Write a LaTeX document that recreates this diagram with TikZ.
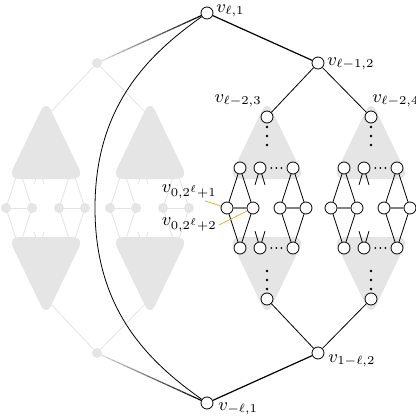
\documentclass[tikz,border=0pt]{standalone}
\usepackage{amsmath,amssymb}
\usepackage{xcolor}
\usetikzlibrary{calc,positioning}
\definecolor{ghost}{gray}{0.9}
\definecolor{ghostline}{gray}{0.89}
\definecolor{pointer}{RGB}{226,178,40}

\begin{document}
\begin{tikzpicture}[x=0.5pt,y=0.5pt,
    vert/.style={circle,draw,fill=white,thin,minimum size=6pt,inner sep=0pt},
    ghostvert/.style={circle,fill=ghost,minimum size=5pt,inner sep=0pt},
    lab/.style={inner sep=1pt,font=\fontsize{8.6}{10}\selectfont},
    rung/.style={gray,line width=0.9pt},
    cone/.style={ghost,rounded corners=5.5pt}]
    \useasboundingbox (0,0) rectangle (416,420);

    % LEFT: faded copy of the right half
    \begin{scope}[shift={(-221,0)}]
        \node[ghostvert] (gup) at (318,357) {};
        \node[ghostvert] (gdn) at (318,67) {};
        \foreach \c in {267,371} {
            \draw[ghostline] (gup) -- (\c,303);
            \draw[ghostline] (gdn) -- (\c,121);
            \foreach \t/\m in {-27/-40,-27/-14,26/13,26/39}
                \draw[ghostline] (\c+\t,252) -- (\c+\m,212) -- (\c+\t,172);
            \draw[ghostline] (\c-12,236) -- (\c-7,252) -- (\c-2,236);
            \draw[ghostline] (\c-12,188) -- (\c-7,172) -- (\c-2,188);
            \draw[ghostline] (\c-40,212) -- (\c-14,212);
            \draw[ghostline] (\c+13,212) -- (\c+39,212);
            \fill[cone] (\c,320) -- (\c-38,241) -- (\c+38,241) -- cycle;
            \fill[cone] (\c,104) -- (\c-38,183) -- (\c+38,183) -- cycle;
            \foreach \m [count=\k] in {-40,-14,13,39}
                \node[ghostvert] (g\c-\k) at (\c+\m,212) {};
        }
    \end{scope}

    % RIGHT: the tree with its two ladders
    \node[vert] (top) at (207,407) {};
    \node[vert] (bot) at (207,17) {};
    \node[vert] (up) at (318,357) {};
    \node[vert] (dn) at (318,67) {};
    \coordinate (arcmid) at (95,212);

    \foreach \c/\n in {267/3,371/4} {
        \fill[cone] (\c,320) -- (\c-38,241) -- (\c+38,241) -- cycle;
        \fill[cone] (\c,104) -- (\c-38,183) -- (\c+38,183) -- cycle;
        \foreach \y in {293,284,275,131,140,149}
            \fill (\c,\y) circle (1.3);
        \node[vert] (a\n) at (\c,303) {};
        \node[vert] (b\n) at (\c,121) {};
        \foreach \x [count=\k] in {-27,-7,26} {
            \node[vert] (t\n-\k) at (\c+\x,252) {};
            \node[vert] (d\n-\k) at (\c+\x,172) {};
        }
        \foreach \x [count=\k] in {-40,-14,13,39}
            \node[vert] (m\n-\k) at (\c+\x,212) {};
        \foreach \x in {4.5,9.5,14.5} {
            \fill (\c+\x,252) circle (1);
            \fill (\c+\x,172) circle (1);
        }
        \draw (up) -- (a\n);
        \draw (dn) -- (b\n);
        \draw (t\n-1) -- (m\n-1) -- (d\n-1) (t\n-1) -- (m\n-2) -- (d\n-1);
        \draw (t\n-3) -- (m\n-3) -- (d\n-3) (t\n-3) -- (m\n-4) -- (d\n-3);
        \draw[rung] (m\n-1) -- (m\n-2) (m\n-3) -- (m\n-4);
        \draw (t\n-2) -- +(-5,-17) (t\n-2) -- +(5,-17);
        \draw (d\n-2) -- +(-5,17) (d\n-2) -- +(5,17);
    }

    \draw[semithick] (top) -- (up);
    \draw[semithick] (bot) -- (dn);
    \draw (top) .. controls +(-61,-43) and +(0,100) .. (arcmid)
        .. controls +(0,-100) and +(-61,43) .. (bot);

    % fading edges into the grey copy
    \coordinate (fs) at ($(top)!3pt!(gup)$);
    \coordinate (fe) at ($(gup)!2.5pt!(top)$);
    \coordinate (bs) at ($(bot)!3pt!(gdn)$);
    \coordinate (be) at ($(gdn)!2.5pt!(bot)$);
    \foreach \i in {0,...,19} {
        \pgfmathtruncatemacro{\p}{100-5*\i}
        \draw[semithick,black!\p!ghostline] ($(fs)!\i/20!(fe)$) -- ($(fs)!\i/20+0.05!(fe)$);
        \draw[semithick,black!\p!ghostline] ($(bs)!\i/20!(be)$) -- ($(bs)!\i/20+0.05!(be)$);
    }

    % labels
    \node[lab,inner sep=0.5pt,anchor=base west] (ltop) at (215,408) {$v_{\ell,1}$};
    \node[lab,anchor=base west] (lup) at (325,355) {$v_{\ell-1,2}$};
    \node[lab,anchor=base east] (la3) at (264,318) {$v_{\ell-2,3}$};
    \node[lab,anchor=base west] (la4) at (370,318) {$v_{\ell-2,4}$};
    \node[lab,anchor=base west] (ldn) at (326,58) {$v_{1-\ell,2}$};
    \node[lab,anchor=base west] (lbot) at (216,10) {$v_{-\ell,1}$};
    \node[lab,anchor=base east] (lm1) at (219,228) {$v_{0,2^\ell+1}$};
    \node[lab,anchor=base east] (lm2) at (219,195) {$v_{0,2^\ell+2}$};
    \draw[pointer] ([xshift=-7pt]lm1.south east) -- (m3-1);
    \draw[pointer] (lm2.base east) -- (m3-2);
\end{tikzpicture}
\end{document}
